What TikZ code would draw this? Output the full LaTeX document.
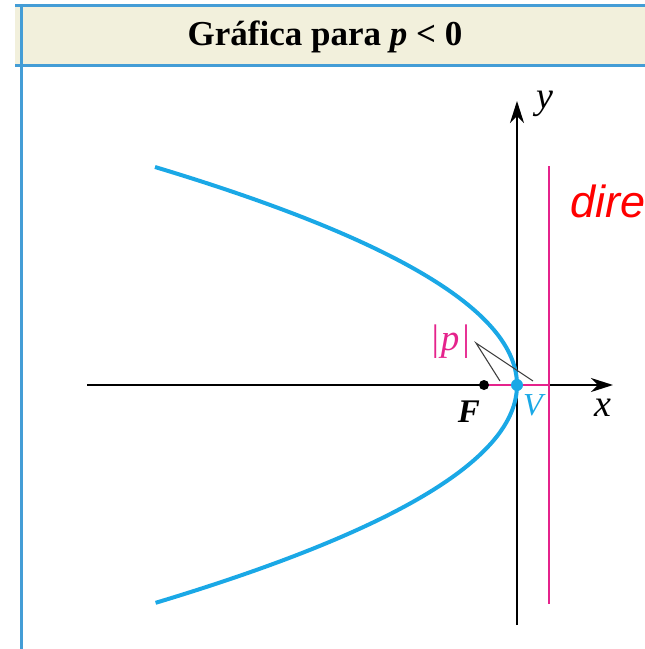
\documentclass[tikz,border=0pt]{standalone}
\usepackage{fontspec}
\setmainfont{Liberation Serif}
\newfontfamily\arialf{Liberation Sans}
\usetikzlibrary{arrows.meta}
\definecolor{frameblue}{HTML}{449DD6}
\definecolor{headfill}{HTML}{F2F0DC}
\definecolor{curveblue}{HTML}{1AA8E6}
\definecolor{mag}{HTML}{E5238C}
\tikzset{
  frameline/.style={draw=frameblue, line width=3pt},
  axis/.style={draw=black, line width=1.8pt, -{Stealth[length=22pt,width=14pt,inset=7pt]}},
  curve/.style={draw=curveblue, line width=4pt},
  dirline/.style={draw=mag, line width=2.5pt},
  pointer/.style={draw=black!75, line width=1.1pt},
  lab/.style={font=\fontsize{38}{38}\selectfont\itshape, inner sep=0pt},
}
\begin{document}
\begin{tikzpicture}[x=1pt,y=-1pt]
\useasboundingbox (0,0) rectangle (645,649);
% header
\fill[headfill] (15,5) rectangle (645,65);
\draw[frameline] (15,5.5) -- (645,5.5);
\draw[frameline] (15,65) -- (645,65);
\draw[frameline] (21,5) -- (21,649);
\node[inner sep=0pt, font=\fontsize{35}{35}\selectfont\bfseries] (title) at (325,37) {Gráfica para \textit{p} < 0};
% axes
\coordinate (xs) at (87,385);
\coordinate (xe) at (613,385);
\coordinate (ys) at (517,625);
\coordinate (ye) at (517,101);
\draw[axis] (xs) -- (xe);
\draw[axis] (ys) -- (ye);
\node[lab] (ylab) at (545,104) {y};
\node[lab] (xlab) at (603,408) {x};
% directrix
\coordinate (dtop) at (549,166);
\coordinate (dbot) at (549,604);
\draw[dirline] (dtop) -- (dbot);
\node[anchor=base west, inner sep=0pt, text=red, font=\fontsize{45}{45}\selectfont\arialf\itshape] (dire) at (570,217) {dire};
% focal segment
\coordinate (Fp) at (484,385);
\coordinate (Dp) at (549,385);
\draw[dirline] (Fp) -- (Dp);
% parabola
\draw[curve] plot[domain=-1:1, samples=120, smooth] ({517-362*\x*\x},{385+218*\x});
% points
\node[circle, fill=black, inner sep=0pt, minimum size=10pt] (F) at (Fp) {};
\node[circle, fill=curveblue, inner sep=0pt, minimum size=12pt] (V) at (517,385) {};
\node[lab, font=\fontsize{33}{33}\selectfont\bfseries\itshape] (Flab) at (469,412) {F};
\node[lab, font=\fontsize{32}{32}\selectfont\itshape, text=curveblue] (Vlab) at (533,405) {V};
% |p| label
\node[lab, font=\fontsize{37}{37}\selectfont\itshape, text=mag] (plab) at (450,342) {|\kern1pt p\kern1pt|};
\coordinate (pp) at (476,343);
\coordinate (m1) at (500,381);
\coordinate (m2) at (533,381);
\draw[pointer] (m1) -- (pp) -- (m2);
\end{tikzpicture}
\end{document}
